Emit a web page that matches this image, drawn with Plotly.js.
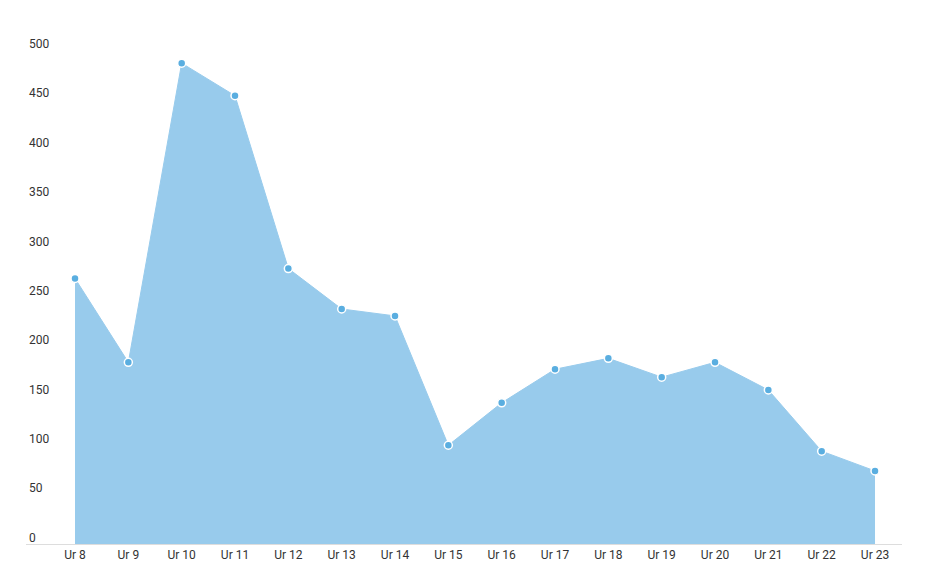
<!DOCTYPE html>
<html>
<head>
<meta charset="utf-8">
<script src="https://cdn.plot.ly/plotly-3.0.1.min.js"></script>
<style>html,body{margin:0;padding:0;background:#fff;}#chart{width:931px;height:578px;}</style>
</head>
<body>
<div id="chart"></div>
<script>
const categories = ["Ur 8","Ur 9","Ur 10","Ur 11","Ur 12","Ur 13","Ur 14","Ur 15","Ur 16","Ur 17","Ur 18","Ur 19","Ur 20","Ur 21","Ur 22","Ur 23"];
const values = [269,184,487,454,279,238,231,100,143,177,188,169,184,156,94,74];
const yTicks = [0,50,100,150,200,250,300,350,400,450,500];

const trace = {
  x: categories,
  y: values,
  type: 'scatter',
  mode: 'lines+markers',
  fill: 'tozeroy',
  fillcolor: '#98cbec',
  line: {color: '#98cbec', width: 1},
  marker: {color: '#5aaee0', size: 8, line: {color: '#ffffff', width: 1.5}},
  hoverinfo: 'x+y'
};

const layout = {
  width: 931, height: 578,
  margin: {l: 26, r: 29, t: 20, b: 27, pad: 0},
  paper_bgcolor: '#fff', plot_bgcolor: '#fff',
  showlegend: false,
  font: {family: 'Roboto, "Noto Sans", sans-serif', size: 12, color: '#333'},
  xaxis: {
    type: 'category',
    range: [-0.919, 15.506],
    anchor: 'free',
    position: 7 / 531,
    showgrid: false, zeroline: false,
    showline: true, linecolor: '#dddddd', linewidth: 1,
    ticks: '', tickfont: {size: 12, color: '#333'},
    fixedrange: true
  },
  yaxis: {
    range: [-7.09, 530.7],
    tickvals: yTicks,
    ticktext: yTicks.map(String),
    showgrid: false, zeroline: false, showline: false,
    ticks: '',
    ticklabelposition: 'inside top',
    ticklabelshift: 2,
    tickfont: {size: 12, color: '#333'},
    fixedrange: true
  }
};

Plotly.newPlot('chart', [trace], layout, {displayModeBar: false, staticPlot: true});
</script>
</body>
</html>
